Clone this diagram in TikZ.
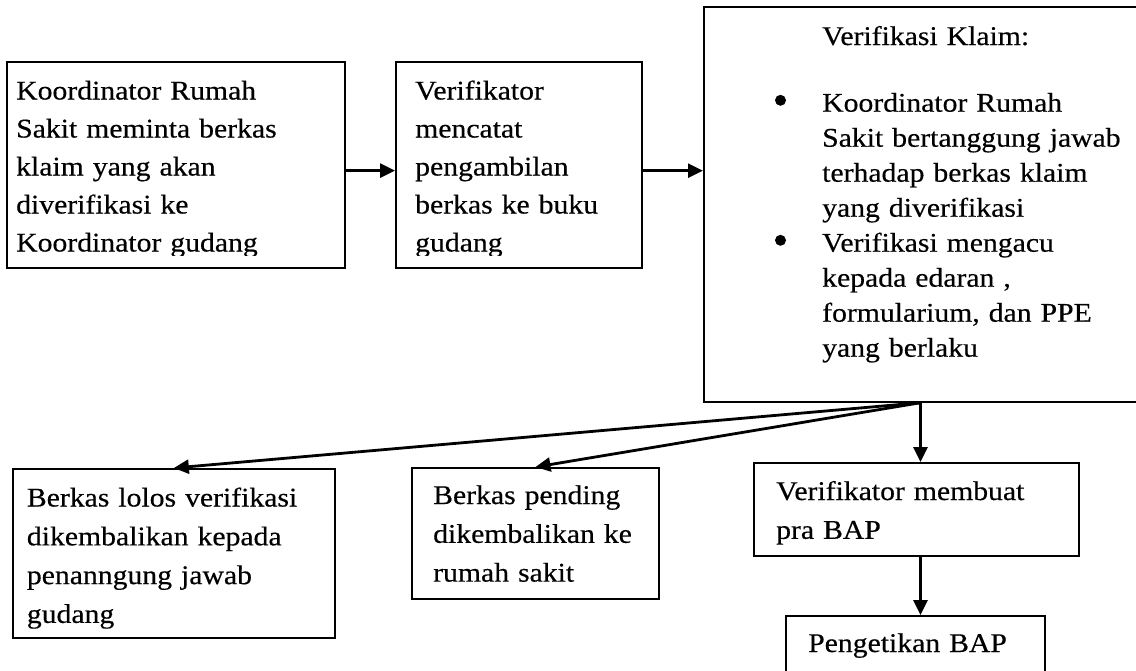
\documentclass[tikz,border=0pt]{standalone}
\usepackage{fontspec}
\setmainfont{Liberation Serif}[FakeStretch=1.1,FakeBold=0.4]
\usetikzlibrary{arrows.meta,calc}
\begin{document}
\begin{tikzpicture}[x=1pt,y=-1pt,
  box/.style={draw=black, line width=2pt, fill=white, rectangle, inner sep=0pt},
  txt/.style={anchor=base west, inner sep=0pt, align=left, text width=#1},
  lsA/.style={font=\fontsize{27pt}{38pt}\selectfont},
  lsB/.style={font=\fontsize{27pt}{35pt}\selectfont},
  lsC/.style={font=\fontsize{27pt}{38.8pt}\selectfont},
  bul/.style={circle, fill=black, inner sep=0pt, minimum size=11pt},
  arr/.style={line width=2.8pt, -{Triangle[length=15pt,width=14pt]}},
]
\useasboundingbox (0,0) rectangle (1136,670);
\clip (0,0) rectangle (1136,670);

% boxes
\node[box, minimum width=338.3pt, minimum height=206pt] (b1) at (175.85,165) {};
\node[box, minimum width=246pt, minimum height=206pt] (b2) at (519,165) {};
\node[box, minimum width=433pt, minimum height=394.7pt] (b3) at (920.5,204.35) {};
\node[box, minimum width=322.3pt, minimum height=169pt] (b4) at (173.85,553.5) {};
\node[box, minimum width=247pt, minimum height=131pt] (b5) at (535.5,533.5) {};
\node[box, minimum width=325pt, minimum height=93pt] (b6) at (916.5,509.5) {};
\node[box, minimum width=259pt, minimum height=74pt] (b7) at (915.5,653) {};

% texts of the first two boxes (clipped at the bottom as in the source)
\begin{scope}
\clip (0,0) rectangle (700,255.5);
\node[txt=330pt, lsA] (t1) at (16,99.5) {Koordinator Rumah\\Sakit meminta berkas\\klaim yang akan\\diverifikasi ke\\Koordinator gudang};
\node[txt=230pt, lsA] (t2) at (415,99.5) {Verifikator\\mencatat\\pengambilan\\berkas ke buku\\gudang};
\end{scope}

% box 3
\node[txt=300pt, lsB] (t3h) at (822,45) {Verifikasi Klaim:};
\node[bul] (bu1) at (780.5,100.3) {};
\node[txt=310pt, lsB] (t3a) at (822,111.7) {Koordinator Rumah\\Sakit bertanggung jawab\\terhadap berkas klaim\\yang diverifikasi};
\node[bul] (bu2) at (780.5,240.3) {};
\node[txt=310pt, lsB] (t3b) at (822,251.7) {Verifikasi mengacu\\kepada edaran ,\\formularium, dan PPE\\yang berlaku};

% lower boxes
\node[txt=305pt, lsC] (t4) at (26.7,506.5) {Berkas lolos verifikasi\\dikembalikan kepada\\penanngung jawab\\gudang};
\node[txt=225pt, lsC] (t5) at (433,504) {Berkas pending\\dikembalikan ke\\rumah sakit};
\node[txt=300pt, lsC] (t6) at (776,500) {Verifikator membuat\\pra BAP};
\node[txt=235pt, lsC] (t7) at (808,652) {Pengetikan BAP};

% connectors
\draw[arr] ([yshift=-5.6pt]b1.east) -- ([yshift=-5.6pt]b1.east -| b2.west);
\draw[arr] ([yshift=-5.7pt]b2.east) -- ([yshift=-5.7pt]b2.east -| b3.west);
\draw[arr] (b3.south) -- (b4.north);
\draw[arr] (b3.south) -- (b5.north);
\draw[arr] (b3.south) -- (b3.south |- b6.north);
\draw[arr] (b3.south |- b6.south) -- (b3.south |- b7.north);
\end{tikzpicture}
\end{document}
